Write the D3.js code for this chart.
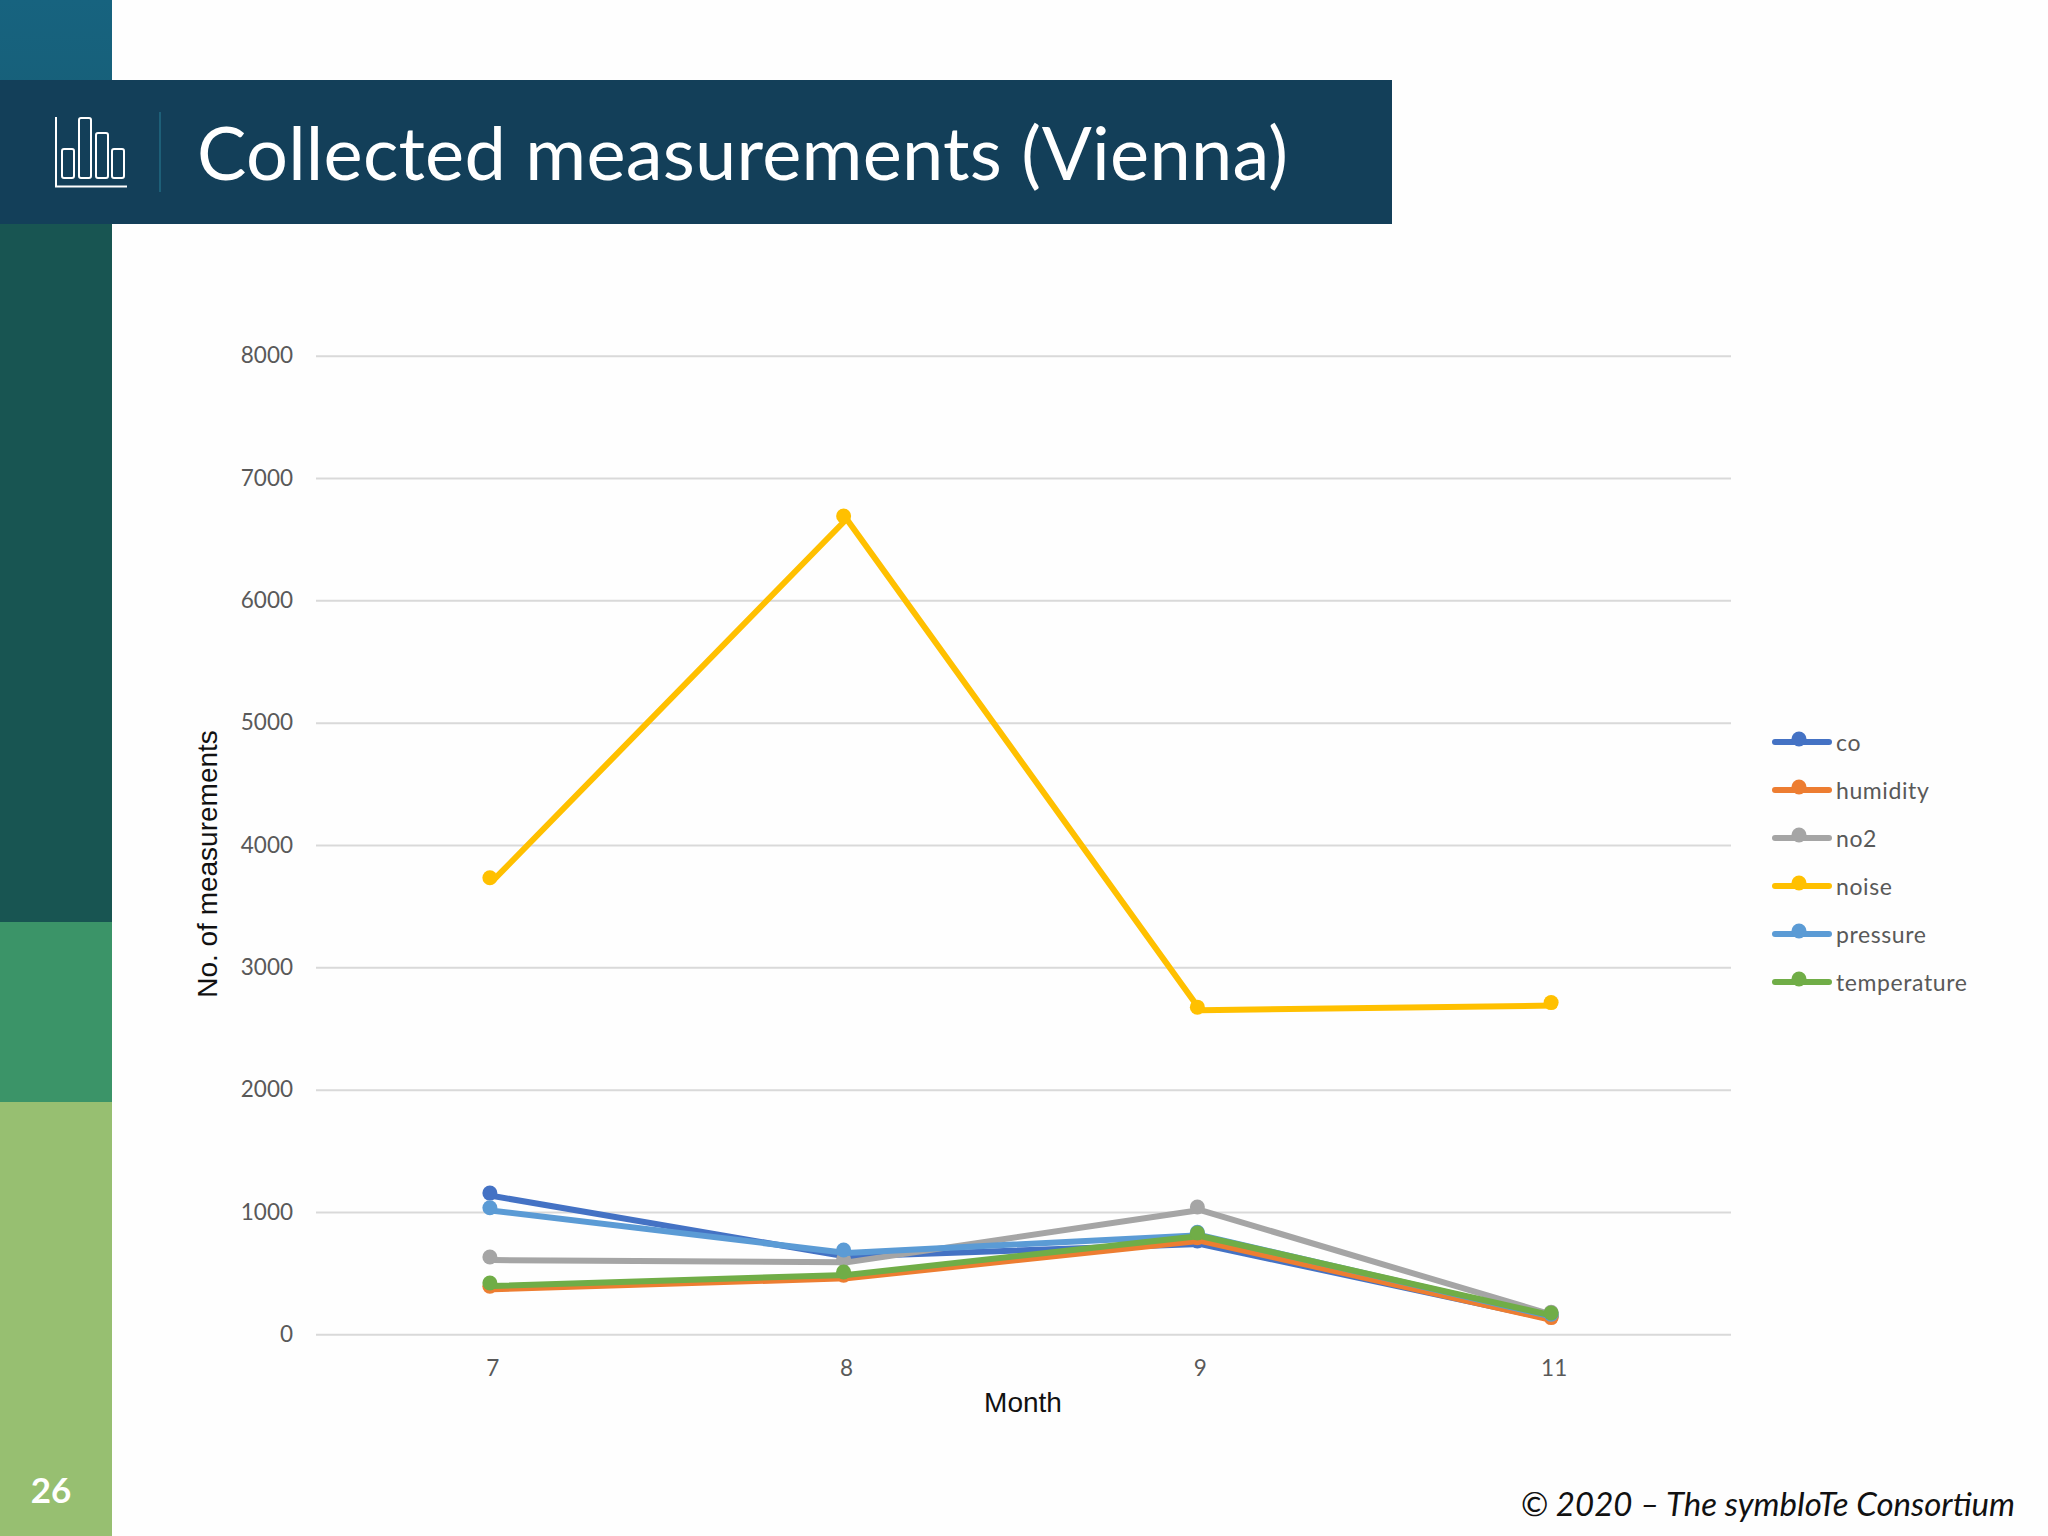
<!DOCTYPE html>
<html>
<head>
<meta charset="utf-8">
<title>Collected measurements (Vienna)</title>
<script src="https://cdn.jsdelivr.net/npm/d3@7"></script>
<style>
	html, body { margin: 0; padding: 0; background: #fefefe; }
	svg { display: block; }
	.tick-label { font-family: Lato, sans-serif; font-size: 22.5px; fill: #595959; }
	.axis-title { font-family: "Liberation Sans", sans-serif; font-size: 28px; fill: #111; }
	.legend-label { font-family: Lato, sans-serif; font-size: 23px; fill: #595959; letter-spacing: 0.6px; }
</style>
</head>
<body>
<div id="chart"></div>
<script>
///////////////////////////////////////////////////////////////////////////
/////////////////////////////// The data //////////////////////////////////
///////////////////////////////////////////////////////////////////////////

var months = ["7", "8", "9", "11"];
var yTicks = [0, 1000, 2000, 3000, 4000, 5000, 6000, 7000, 8000];

var co = [1130, 635, 738, 120];
var humidity = [368, 458, 765, 112];
var no2 = [607, 588, 1016, 155];
var noise = [3708, 6665, 2650, 2687];
var pressure = [1010, 665, 810, 140];
var temperature = [395, 485, 804, 150];

var seriesNames = ["co", "humidity", "no2", "noise", "pressure", "temperature"];
var seriesValues = [co, humidity, no2, noise, pressure, temperature];
var seriesColors = ["#4472c4", "#ed7d31", "#a5a5a5", "#ffc000", "#5b9bd5", "#70ad47"];

var sidebarBlocks = [
	{ top: 0, bottom: 224, color: "url(#sidebarTop)" },
	{ top: 224, bottom: 922, color: "#185552" },
	{ top: 922, bottom: 1102, color: "#3b9468" },
	{ top: 1102, bottom: 1536, color: "#97bf71" }
];

///////////////////////////////////////////////////////////////////////////
//////////////////////////// Set up the SVG ///////////////////////////////
///////////////////////////////////////////////////////////////////////////

var svg = d3.select("#chart")
	.append("svg")
	.attr("width", 2048)
	.attr("height", 1536);

var gradient = svg.append("defs").append("linearGradient")
	.attr("id", "sidebarTop")
	.attr("x1", 0).attr("x2", 0).attr("y1", 0).attr("y2", 1);
gradient.append("stop").attr("offset", "0%").attr("stop-color", "#17637f");
gradient.append("stop").attr("offset", "40%").attr("stop-color", "#17607a");
gradient.append("stop").attr("offset", "100%").attr("stop-color", "#185552");

svg.append("rect")
	.attr("width", 2048)
	.attr("height", 1536)
	.style("fill", "#fefefe");

///////////////////////////////////////////////////////////////////////////
////////////////////////// The slide furniture ////////////////////////////
///////////////////////////////////////////////////////////////////////////

svg.selectAll(".sidebar")
	.data(sidebarBlocks)
	.enter().append("rect")
	.attr("class", "sidebar")
	.attr("x", 0)
	.attr("y", function(d) { return d.top; })
	.attr("width", 112)
	.attr("height", function(d) { return d.bottom - d.top; })
	.style("fill", function(d) { return d.color; });

svg.append("rect")
	.attr("x", 0)
	.attr("y", 80)
	.attr("width", 1392)
	.attr("height", 144)
	.style("fill", "#133f59");

//Small bar chart icon in the header
var icon = svg.append("g").attr("class", "header-icon");
icon.append("path")
	.attr("d", "M56,117V186.5H127")
	.style("fill", "none")
	.style("stroke", "#fff")
	.style("stroke-width", 2);
icon.selectAll("rect")
	.data([[62, 149], [79, 118], [96, 133], [112, 149]])
	.enter().append("rect")
	.attr("x", function(d) { return d[0]; })
	.attr("y", function(d) { return d[1]; })
	.attr("width", 12)
	.attr("height", function(d) { return 178 - d[1]; })
	.attr("rx", 2)
	.style("fill", "none")
	.style("stroke", "#fff")
	.style("stroke-width", 2);

svg.append("line")
	.attr("x1", 160).attr("x2", 160)
	.attr("y1", 112).attr("y2", 192)
	.style("stroke", "#1d5f78")
	.style("stroke-width", 2);

svg.append("text")
	.attr("x", 197)
	.attr("y", 180)
	.attr("textLength", 1091)
	.style("font-family", "Lato, sans-serif")
	.style("font-size", "74px")
	.style("fill", "#fff")
	.text("Collected measurements (Vienna)");

svg.append("text")
	.attr("x", 51)
	.attr("y", 1503)
	.attr("text-anchor", "middle")
	.style("font-family", "Lato, sans-serif")
	.style("font-size", "35px")
	.style("font-weight", "700")
	.style("fill", "#fff")
	.text("26");

svg.append("text")
	.attr("x", 2015)
	.attr("y", 1516)
	.attr("text-anchor", "end")
	.style("font-family", "Lato, sans-serif")
	.style("font-size", "33px")
	.style("font-style", "italic")
	.style("fill", "#111")
	.text("\u00A9 2020 \u2013 The symbIoTe Consortium");

///////////////////////////////////////////////////////////////////////////
////////////////////////// Create the scales //////////////////////////////
///////////////////////////////////////////////////////////////////////////

var plotLeft = 316, plotRight = 1731;
var plotTop = 355.7, plotBottom = 1334.3;

var xScale = d3.scaleBand()
	.domain(months)
	.range([plotLeft, plotRight]);

var yScale = d3.scaleLinear()
	.domain([0, 8000])
	.range([plotBottom, plotTop]);

//In the slide the markers sit a little up and left of the line vertices
var markerDx = -3, markerDy = -3;

///////////////////////////////////////////////////////////////////////////
///////////////////////////// Draw the axes ///////////////////////////////
///////////////////////////////////////////////////////////////////////////

var yAxis = svg.append("g")
	.attr("transform", "translate(" + plotLeft + ",0)")
	.call(d3.axisLeft(yScale).tickValues(yTicks).tickFormat(d3.format("d")).tickSize(-(plotRight - plotLeft)).tickPadding(23));
yAxis.select(".domain").remove();
yAxis.selectAll(".tick line").style("stroke", "#d9d9d9").style("stroke-width", 2);
yAxis.selectAll(".tick text").attr("class", "tick-label");

var xAxis = svg.append("g")
	.attr("transform", "translate(0," + plotBottom + ")")
	.call(d3.axisBottom(xScale).tickSize(0).tickPadding(26));
xAxis.select(".domain").remove();
xAxis.selectAll(".tick text").attr("class", "tick-label");
yAxis.attr("font-family", null).attr("font-size", null);
xAxis.attr("font-family", null).attr("font-size", null);

svg.append("text")
	.attr("class", "axis-title")
	.attr("x", 1023)
	.attr("y", 1412)
	.attr("text-anchor", "middle")
	.text("Month");

svg.append("text")
	.attr("class", "axis-title")
	.attr("transform", "translate(217,864) rotate(-90)")
	.attr("text-anchor", "middle")
	.text("No. of measurements");

///////////////////////////////////////////////////////////////////////////
///////////////////////////// Draw the lines //////////////////////////////
///////////////////////////////////////////////////////////////////////////

var line = d3.line()
	.x(function(d, i) { return xScale(months[i]) + xScale.bandwidth() / 2; })
	.y(function(d) { return yScale(d); });

seriesNames.forEach(function(name, s) {
	var group = svg.append("g").attr("class", "series series-" + name);

	group.append("path")
		.attr("d", line(seriesValues[s]))
		.style("fill", "none")
		.style("stroke", seriesColors[s])
		.style("stroke-width", 6)
		.style("stroke-linecap", "round")
		.style("stroke-linejoin", "round");

	group.selectAll("circle")
		.data(seriesValues[s])
		.enter().append("circle")
		.attr("cx", function(d, i) { return xScale(months[i]) + xScale.bandwidth() / 2 + markerDx; })
		.attr("cy", function(d) { return yScale(d) + markerDy; })
		.attr("r", 7.5)
		.style("fill", seriesColors[s]);
});

///////////////////////////////////////////////////////////////////////////
///////////////////////////// Add the legend //////////////////////////////
///////////////////////////////////////////////////////////////////////////

var legend = svg.selectAll(".legend-item")
	.data(seriesNames)
	.enter().append("g")
	.attr("class", "legend-item")
	.attr("transform", function(d, i) { return "translate(1772," + (742 + i * 48) + ")"; });

legend.append("line")
	.attr("x1", 3).attr("x2", 57)
	.style("stroke", function(d, i) { return seriesColors[i]; })
	.style("stroke-width", 6)
	.style("stroke-linecap", "round");

legend.append("circle")
	.attr("cx", 27)
	.attr("cy", -3)
	.attr("r", 7.5)
	.style("fill", function(d, i) { return seriesColors[i]; });

legend.append("text")
	.attr("class", "legend-label")
	.attr("x", 64)
	.attr("y", 9)
	.text(function(d) { return d; });
</script>
</body>
</html>
